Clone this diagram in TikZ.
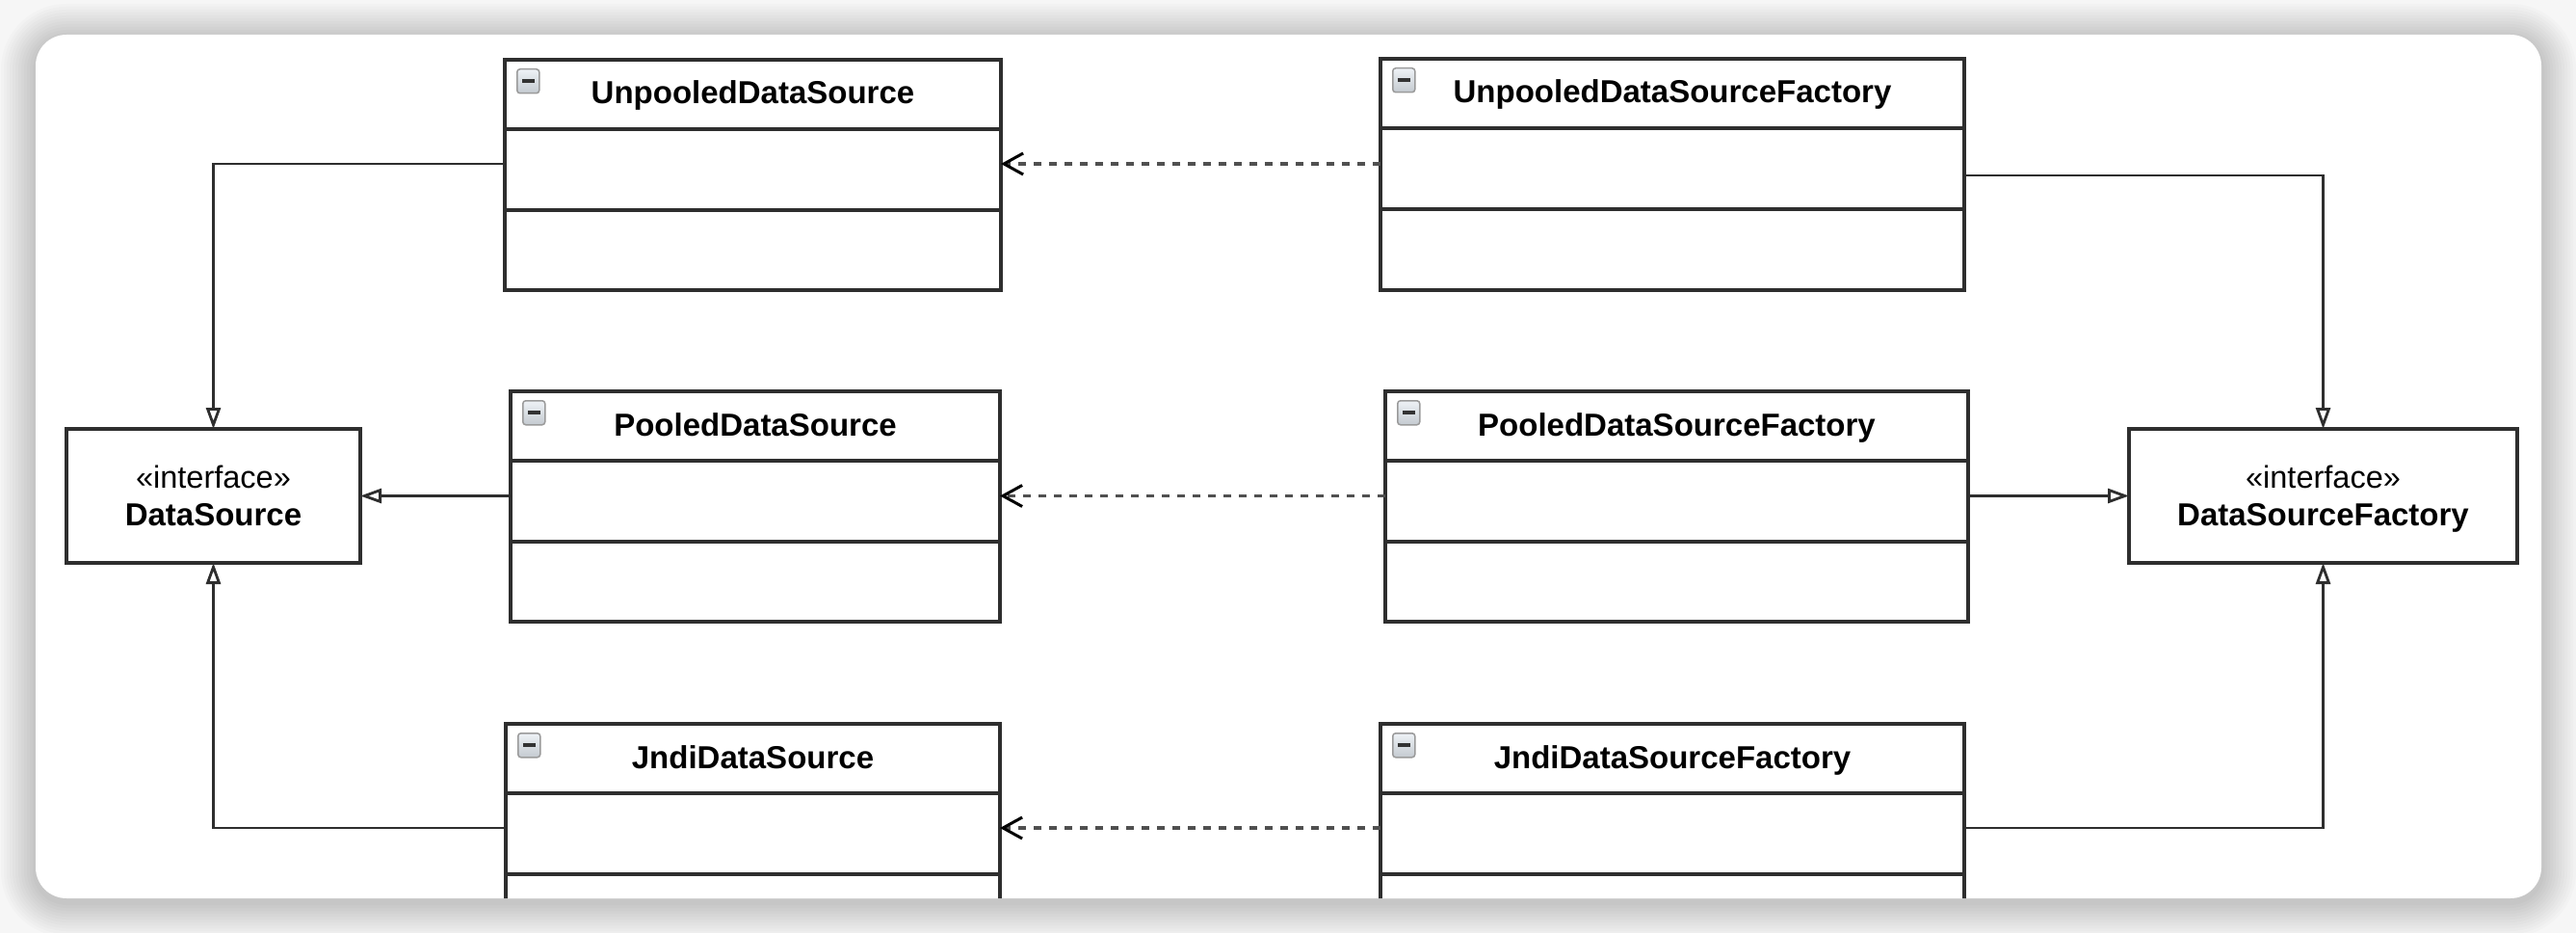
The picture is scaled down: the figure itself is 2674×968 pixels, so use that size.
\documentclass[tikz,border=0pt]{standalone}
\usepackage{fontspec}
\setmainfont{Liberation Sans}
\usetikzlibrary{arrows.meta,calc}
\definecolor{bgc}{HTML}{F6F6F6}
\definecolor{linec}{HTML}{2E2E2E}
\definecolor{dashc}{HTML}{505050}
\definecolor{icontop}{HTML}{EEF2F6}
\definecolor{iconbot}{HTML}{C4CAD0}
\definecolor{iconborder}{HTML}{9A9A9A}
\tikzset{
  classbox/.style={draw=linec, line width=3.5pt, fill=white, anchor=north west, inner sep=0pt, outer sep=0pt},
  ifacebox/.style={draw=linec, line width=3.5pt, fill=white, anchor=north west, inner sep=0pt, outer sep=0pt, minimum height=139pt},
  titletext/.style={font=\fontsize{33pt}{39pt}\selectfont\bfseries, anchor=base, inner sep=0pt},
  stereo/.style={font=\fontsize{32.5pt}{39pt}\selectfont, anchor=base, inner sep=0pt},
  divider/.style={draw=linec, line width=3.5pt},
  gen/.style={draw=linec, line width=2.8pt, -{Triangle[open, length=22pt, width=15pt, line width=2.8pt]}},
  dep/.style={draw=dashc, line width=3.5pt, dash pattern=on 8pt off 8pt, -{Straight Barb[length=20pt, width=22pt, line width=3pt, color=black]}},
  iconbox/.style={draw=iconborder, line width=1.5pt, top color=icontop, bottom color=iconbot, rounded corners=3pt, anchor=north west, minimum width=23pt, minimum height=25pt, inner sep=0pt},
  iconbar/.style={draw=black!80, line width=4pt}
}
\begin{document}
\begin{tikzpicture}[x=1pt, y=-1pt]
\useasboundingbox (0,0) rectangle (2674,968);
\fill[bgc] (0,0) rectangle (2674,968);
% shadow
\foreach \i in {1,...,12}{
  \pgfmathsetmacro\rr{32+3*\i}
  \fill[black, opacity=0.015, rounded corners=\rr pt] ({37-3*\i},{40-3*\i}) rectangle ({2638+3*\i},{936+3*\i});
}
% card
\fill[white, rounded corners=32pt] (37,36) rectangle (2638,932);
\begin{scope}
\clip[rounded corners=32pt] (37,36) rectangle (2638,932);

% class boxes
\node[classbox, minimum width=515pt, minimum height=239pt] (U) at (524,62) {};
\node[classbox, minimum width=508pt, minimum height=239pt] (P) at (530,406) {};
\node[classbox, minimum width=513pt, minimum height=300pt] (J) at (525,751) {};
\node[classbox, minimum width=606pt, minimum height=240pt] (UF) at (1433,61) {};
\node[classbox, minimum width=605pt, minimum height=239pt] (PF) at (1438,406) {};
\node[classbox, minimum width=606pt, minimum height=300pt] (JF) at (1433,751) {};

% dividers
\foreach \b in {U,P,J,UF,PF,JF}{
  \draw[divider] ($(\b.north west)+(0,72)$) -- ($(\b.north east)+(0,72)$);
  \draw[divider] ($(\b.north west)+(0,156)$) -- ($(\b.north east)+(0,156)$);
  \node[iconbox] (\b i) at ($(\b.north west)+(12,9)$) {};
  \draw[iconbar] ($(\b i.center)+(-6.5,0)$) -- ($(\b i.center)+(6.5,0)$);
}

% titles
\node[titletext] (Ut) at ($(U.north)+(0,46)$) {UnpooledDataSource};
\node[titletext] (Pt) at ($(P.north)+(0,46)$) {PooledDataSource};
\node[titletext] (Jt) at ($(J.north)+(0,46)$) {JndiDataSource};
\node[titletext] (UFt) at ($(UF.north)+(0,46)$) {UnpooledDataSourceFactory};
\node[titletext] (PFt) at ($(PF.north)+(0,46)$) {PooledDataSourceFactory};
\node[titletext] (JFt) at ($(JF.north)+(0,46)$) {JndiDataSourceFactory};

% interfaces
\node[ifacebox, minimum width=305pt] (DS) at (69,445) {};
\node[stereo] (DSs) at ($(DS.north)+(0,61)$) {«interface»};
\node[titletext] (DSt) at ($(DS.north)+(0,100)$) {DataSource};
\node[ifacebox, minimum width=403pt] (DSF) at (2210,445) {};
\node[stereo] (DSFs) at ($(DSF.north)+(0,61)$) {«interface»};
\node[titletext] (DSFt) at ($(DSF.north)+(0,100)$) {DataSourceFactory};

% realizations to DataSource
\coordinate (uL) at ($(U.north west)+(0,108)$);
\draw[gen] (uL) -| (DS.north);
\draw[gen] (P.west |- DS.east) -- (DS.east);
\coordinate (jL) at ($(J.north west)+(0,108)$);
\draw[gen] (jL) -| (DS.south);

% dependencies
\coordinate (ufL) at ($(UF.north west)+(0,109)$);
\draw[dep] (ufL) -- (ufL -| U.east);
\draw[dep] (PF.west |- DS.east) -- (P.east |- DS.east);
\coordinate (jfL) at ($(JF.north west)+(0,108)$);
\draw[dep] (jfL) -- (jfL -| J.east);

% realizations to DataSourceFactory
\coordinate (ufR) at ($(UF.north east)+(0,121)$);
\draw[gen] (ufR) -| (DSF.north);
\draw[gen] (PF.east |- DSF.west) -- (DSF.west);
\coordinate (jfR) at ($(JF.north east)+(0,108)$);
\draw[gen] (jfR) -| (DSF.south);
\end{scope}
\end{tikzpicture}
\end{document}
